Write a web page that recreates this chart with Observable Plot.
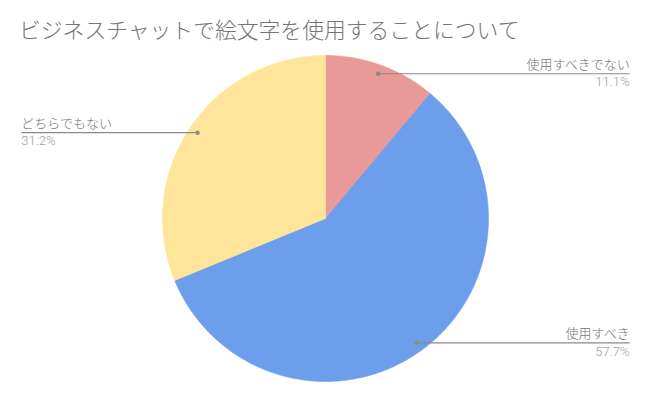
<!DOCTYPE html>
<html><head><meta charset="utf-8">
<script src="https://cdn.jsdelivr.net/npm/d3@7"></script>
<script src="https://cdn.jsdelivr.net/npm/@observablehq/plot@0.6"></script>
<style>
html,body{margin:0;padding:0;background:#fff;}
#title{box-sizing:border-box;height:50px;padding:14px 0 0 19px;line-height:30px;font-family:"Noto Sans CJK JP","Noto Sans",sans-serif;font-weight:300;font-size:21.8px;color:#757575;white-space:nowrap;overflow:hidden;}
#chart svg{display:block;}
</style></head><body>
<div id="title">ビジネスチャットで絵文字を使用することについて</div>
<div id="chart"></div>
<script>
const categories = ["使用すべきでない", "使用すべき", "どちらでもない"];
const values = [11.1, 57.7, 31.2];
const percentLabels = ["11.1%", "57.7%", "31.2%"];
const colors = ["#EA9999", "#6D9EEB", "#FFE599"];

const W = 650, H = 351, R = 163, CX = 325, CY = 168;
const xDomain = [-CX / R, (W - CX) / R];
const yDomain = [-(H - CY) / R, CY / R];

const pie = d3.pie().sort(null).value(d => d.value);
const arcs = pie(categories.map((c, i) => ({cat: c, value: values[i], pct: percentLabels[i]})));

// slice outlines on the unit circle (angle clockwise from 12 o'clock)
const slicePoints = [];
arcs.forEach(a => {
  const cat = a.data.cat;
  slicePoints.push({cat, x: 0, y: 0});
  const n = Math.max(2, Math.ceil((a.endAngle - a.startAngle) / 0.01));
  for (let k = 0; k <= n; k++) {
    const t = a.startAngle + (a.endAngle - a.startAngle) * k / n;
    slicePoints.push({cat, x: Math.sin(t), y: Math.cos(t)});
  }
  slicePoints.push({cat, x: 0, y: 0});
});

const labelEndX = 1.866;
const labels = arcs.map(a => {
  const m = (a.startAngle + a.endAngle) / 2;
  const side = Math.sin(m) >= 0 ? "right" : "left";
  return {
    cat: a.data.cat, pct: a.data.pct, side,
    x1: 0.945 * Math.sin(m), y1: 0.945 * Math.cos(m),
    x2: side === "right" ? labelEndX : -labelEndX
  };
});
const right = labels.filter(d => d.side === "right");
const left = labels.filter(d => d.side === "left");

const font = "Roboto, 'Noto Sans CJK JP', sans-serif";
const chart = Plot.plot({
  width: W, height: H, margin: 0,
  x: {domain: xDomain, axis: null},
  y: {domain: yDomain, axis: null},
  color: {domain: categories, range: colors},
  style: {fontFamily: font, background: "#fff", overflow: "visible"},
  marks: [
    Plot.line(slicePoints, {x: "x", y: "y", z: "cat", fill: "cat", stroke: "cat", strokeWidth: 0.6, curve: "linear"}),
    Plot.link(labels, {x1: "x1", y1: "y1", x2: "x2", y2: "y1", stroke: "#8a8a8a", strokeWidth: 1.2}),
    Plot.dot(labels, {x: "x1", y: "y1", r: 2.2, fill: "#8a8a8a", stroke: null}),
    Plot.text(right, {x: "x2", y: "y1", text: "cat", textAnchor: "end", lineAnchor: "bottom", dy: -5, fontSize: 13, fontWeight: 300, fill: "#757575"}),
    Plot.text(right, {x: "x2", y: "y1", text: "pct", textAnchor: "end", lineAnchor: "top", dy: 3.5, fontSize: 13, fontWeight: 300, fill: "#9e9e9e"}),
    Plot.text(left, {x: "x2", y: "y1", text: "cat", textAnchor: "start", lineAnchor: "bottom", dy: -5, fontSize: 13, fontWeight: 300, fill: "#757575"}),
    Plot.text(left, {x: "x2", y: "y1", text: "pct", textAnchor: "start", lineAnchor: "top", dy: 3.5, fontSize: 13, fontWeight: 300, fill: "#9e9e9e"})
  ]
});
document.getElementById("chart").appendChild(chart);
</script>
</body></html>
